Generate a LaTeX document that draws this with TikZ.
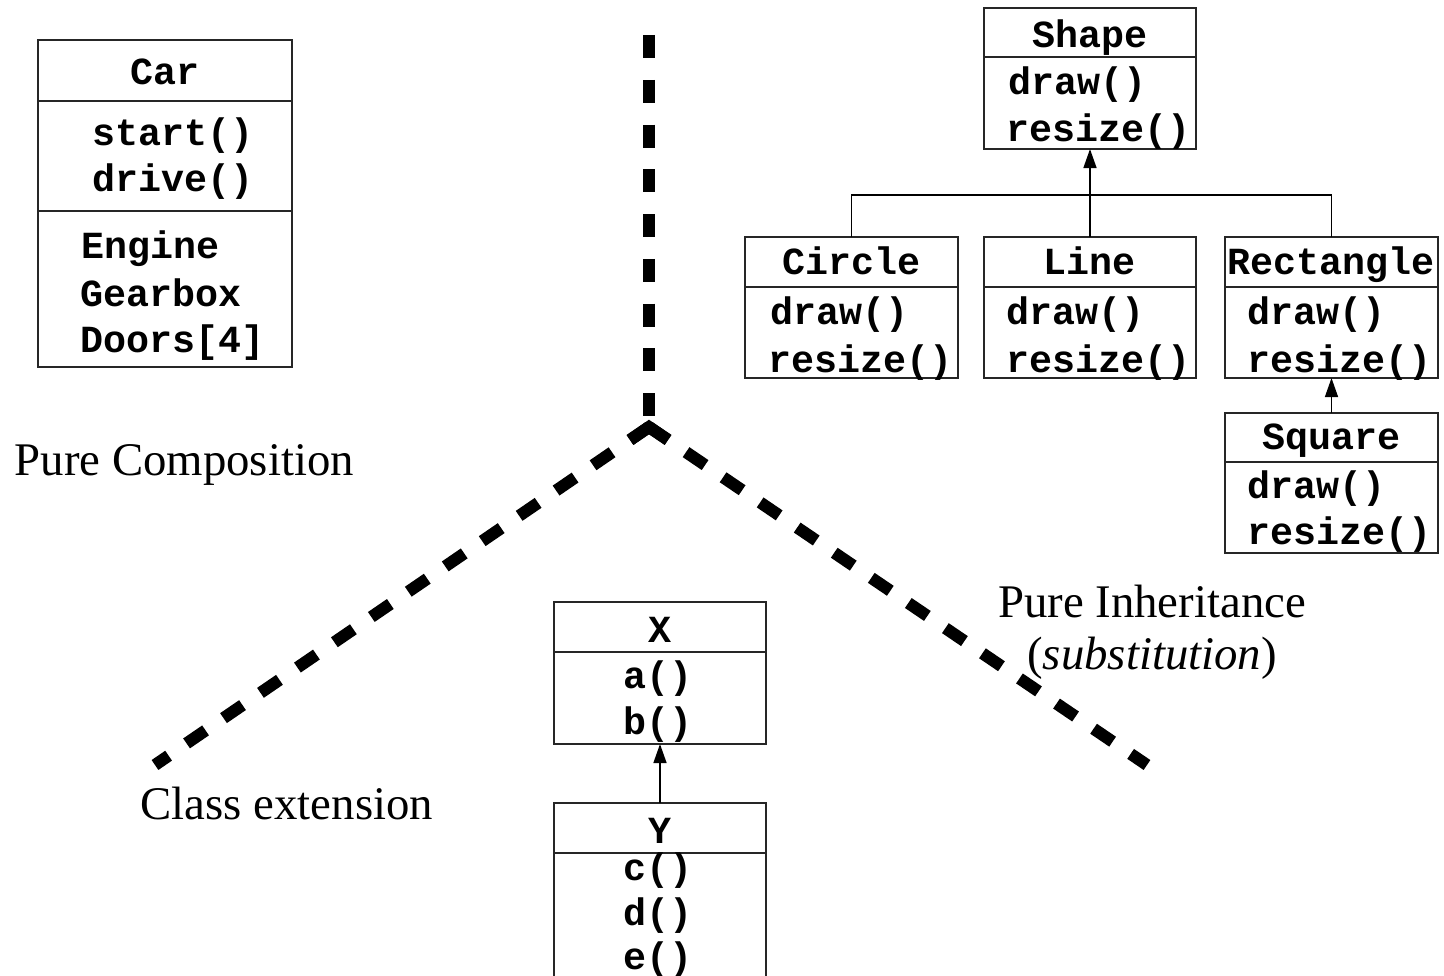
\documentclass[tikz,border=0pt]{standalone}
\usepackage{fontspec}
\setmainfont{Liberation Serif}
\setmonofont{Liberation Mono}
\usetikzlibrary{arrows.meta,calc}
\begin{document}
\begin{tikzpicture}[x=0.01cm,y=-0.01cm,
  classbox/.style={draw=black!85, line width=0.02cm, inner sep=0pt, outer sep=0pt},
  divider/.style={draw=black!85, line width=0.02cm},
  mono/.style={font=\fontsize{10.9}{13}\selectfont\ttfamily\bfseries, inner sep=0pt, anchor=base west, yshift=-0.03cm},
  monoc/.style={mono, anchor=base},
  caption/.style={font=\fontsize{13.3}{14.7}\selectfont, inner sep=0pt},
  inherit/.style={line width=0.015cm, -{Triangle[length=0.19cm,width=0.13cm]}},
  link/.style={line width=0.015cm},
  partition/.style={line width=0.12cm, dash pattern=on 0.23cm off 0.2175cm}
]
\useasboundingbox (0,0) rectangle (1444,976);
\clip (0,0) rectangle (1444,976);

% ---------- composition: Car ----------
\node[classbox, minimum width=2.54cm, minimum height=3.27cm] (carcls) at (165,203.5) {};
\draw[divider] (38,101) -- (292,101);
\draw[divider] (38,211) -- (292,211);
\node[monoc] (carname) at (165,82) {Car};
\node[mono] (carm1) at (92,142) {start()};
\node[mono] (carm2) at (92,189) {drive()};
\node[mono] (cara1) at (81,256) {Engine};
\node[mono] (cara2) at (80,303) {Gearbox};
\node[mono] (cara3) at (80,350) {Doors[4]};

% ---------- inheritance: Shape hierarchy ----------
\node[classbox, minimum width=2.12cm, minimum height=1.41cm] (shapecls) at (1090,78.5) {};
\draw[divider] (984,57) -- (1196,57);
\node[monoc] (shapename) at (1090,45) {Shape};
\node[mono] (shapem1) at (1008,92) {draw()};
\node[mono] (shapem2) at (1006,139) {resize()};

\node[classbox, minimum width=2.13cm, minimum height=1.41cm] (circlecls) at (851.5,307.5) {};
\draw[divider] (745,287) -- (958,287);
\node[monoc] (circlename) at (851.5,272) {Circle};
\node[mono] (circlem1) at (770,322) {draw()};
\node[mono] (circlem2) at (768,369) {resize()};

\node[classbox, minimum width=2.12cm, minimum height=1.41cm] (linecls) at (1090,307.5) {};
\draw[divider] (984,287) -- (1196,287);
\node[monoc] (linename) at (1090,272) {Line};
\node[mono] (linem1) at (1006,322) {draw()};
\node[mono] (linem2) at (1006,369) {resize()};

\node[classbox, minimum width=2.13cm, minimum height=1.41cm] (rectcls) at (1331.5,307.5) {};
\draw[divider] (1225,287) -- (1438,287);
\node[monoc] (rectname) at (1331.5,272) {Rectangle};
\node[mono] (rectm1) at (1247,322) {draw()};
\node[mono] (rectm2) at (1247,369) {resize()};

\node[classbox, minimum width=2.13cm, minimum height=1.40cm] (squarecls) at (1331.5,483) {};
\draw[divider] (1225,462) -- (1438,462);
\node[monoc] (squarename) at (1331.5,447) {Square};
\node[mono] (squarem1) at (1247,496) {draw()};
\node[mono] (squarem2) at (1247,542) {resize()};

\coordinate (bus) at (1090,195);
\draw[link] (circlecls.north) |- (bus) -| (rectcls.north);
\draw[inherit] (linecls.north) -- (shapecls.south);
\draw[inherit] (squarecls.north) -- (rectcls.south);

% ---------- class extension: X and Y ----------
\node[classbox, minimum width=2.12cm, minimum height=1.42cm] (xcls) at (660,673) {};
\draw[divider] (554,652) -- (766,652);
\node[monoc] (xname) at (660,639) {X};
\node[monoc] (xm1) at (658,685) {a()};
\node[monoc] (xm2) at (658,731) {b()};

\node[classbox, minimum width=2.12cm, minimum height=1.87cm] (ycls) at (660,896.5) {};
\draw[divider] (554,853) -- (766,853);
\node[monoc] (yname) at (660,840) {Y};
\node[monoc] (ym1) at (658,878) {c()};
\node[monoc] (ym2) at (658,922) {d()};
\node[monoc] (ym3) at (658,966) {e()};

\draw[inherit] (ycls.north) -- (xcls.south);

% ---------- partition lines ----------
\coordinate (ptop) at (649,35);
\coordinate (pend) at (649,417);
\coordinate (apex) at (649,427);
\coordinate (pleft) at (155,765);
\coordinate (pright) at (1147,765);
\draw[partition] (ptop) -- (pend);
\draw[line width=0.12cm, line join=miter] ($(apex)!0.23cm!(pleft)$) -- (apex) -- ($(apex)!0.23cm!(pright)$);
\draw[partition] (apex) -- (pleft);
\draw[partition] (apex) -- (pright);

% ---------- captions ----------
\node[caption, anchor=base west] (comp) at (14,476) {Pure Composition};
\node[caption, anchor=base west] (ext) at (140,820) {Class extension};
\node[caption, anchor=base] (inh) at (1152,618) {Pure Inheritance};
\node[caption, anchor=base] (subst) at (1152,670) {(\textit{substitution})};
\end{tikzpicture}
\end{document}
